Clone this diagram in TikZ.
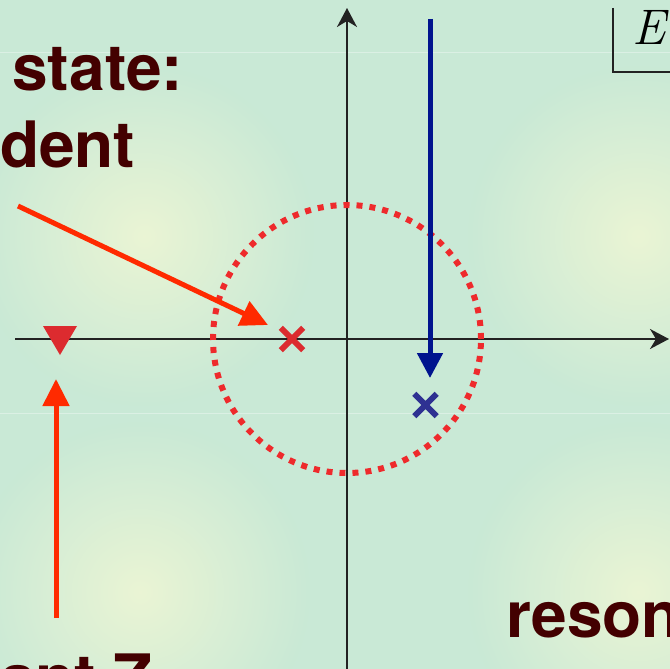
\documentclass[tikz,border=0pt]{standalone}
\usepackage{fontspec}
\setsansfont{TeX Gyre Heros}
\usetikzlibrary{arrows.meta,fadings}
\definecolor{bg}{HTML}{C9E9D6}
\definecolor{glowc}{HTML}{EEF6D4}
\definecolor{txt}{HTML}{430000}
\definecolor{redarr}{HTML}{FF2A00}
\definecolor{redx}{HTML}{DC2B2F}
\definecolor{reddot}{HTML}{EE2A2C}
\definecolor{bluearr}{HTML}{00148E}
\definecolor{bluex}{HTML}{2E3192}
\definecolor{axisc}{HTML}{222222}
\tikzfading[name=glowfade, inner color=transparent!0, outer color=transparent!100]
\begin{document}
\begin{tikzpicture}[x=1pt,y=-1pt,
  lbl/.style={font=\sffamily\bfseries\fontsize{64}{72}\selectfont, text=txt, anchor=base west, inner sep=0pt},
  axisline/.style={draw=axisc, line width=2pt, -{Stealth[length=19pt,width=20pt,inset=6pt]}},
  redarrow/.style={draw=redarr, line width=5pt, -{Triangle[length=27pt,width=26pt]}},
  bluearrow/.style={draw=bluearr, line width=5pt, -{Triangle[length=25pt,width=25pt]}},
  xmark/.style={inner sep=0pt, minimum size=22pt},
  glow/.style={fill=glowc, path fading=glowfade, fill opacity=0.9},
  seam/.style={draw=white, opacity=0.35, line width=1pt},
]
\useasboundingbox (0,0) rectangle (670,669);
\clip (0,0) rectangle (670,669);
\fill[bg] (0,0) rectangle (670,669);
% background glows
\fill[glow] (144,236) circle (170pt);
\fill[glow] (638,236) circle (170pt);
\fill[glow] (140,592) circle (170pt);
\fill[glow] (638,592) circle (170pt);
\draw[seam] (0,53) -- (670,53);
\draw[seam] (0,413) -- (670,413);

% axes
\coordinate (O) at (347,339);
\coordinate (xl) at (15,339);
\coordinate (xr) at (669,339);
\coordinate (yb) at (347,669);
\coordinate (yt) at (347,8);
\draw[axisline] (xl) -- (xr);
\draw[axisline] (yb) -- (yt);

% E box
\coordinate (eb1) at (613,8);
\coordinate (eb2) at (613,72);
\coordinate (eb3) at (670,72);
\draw[axisc, line width=2pt] (eb1) -- (eb2) -- (eb3);
\node[anchor=base west, inner sep=0pt, font=\fontsize{50}{56}\selectfont\itshape] (E) at (632,45) {E};

% dotted circle
\draw[reddot, line width=6pt, dash pattern=on 6pt off 7pt] (O) circle (134pt);

% crosses
\node[xmark] (rx) at (292,339) {};
\draw[redx, line width=6pt] (rx.south west) -- (rx.north east) (rx.north west) -- (rx.south east);
\node[xmark] (bx) at (425.5,405) {};
\draw[bluex, line width=6pt] (bx.south west) -- (bx.north east) (bx.north west) -- (bx.south east);

% triangle marker
\coordinate (tri) at (60,339);
\fill[redx] (tri) ++(-17,-13) -- ++(34,0) -- ++(-17,29) -- cycle;

% arrows
\coordinate (a1s) at (18,206);
\coordinate (a1e) at (268,325);
\draw[redarrow] (a1s) -- (a1e);
\coordinate (a2s) at (56,618);
\coordinate (a2e) at (56,379);
\draw[redarrow] (a2s) -- (a2e);
\coordinate (bs) at (430,19);
\coordinate (be) at (430,378);
\draw[bluearrow] (bs) -- (be);

% texts
\node[lbl] (t1) at (12,91) {state:};
\node[lbl] (t2) at (0,167) {dent};
\node[lbl] (t3) at (506,637) {reson};
\node[lbl] (t4) at (0,700) {ant Z};
\end{tikzpicture}
\end{document}
